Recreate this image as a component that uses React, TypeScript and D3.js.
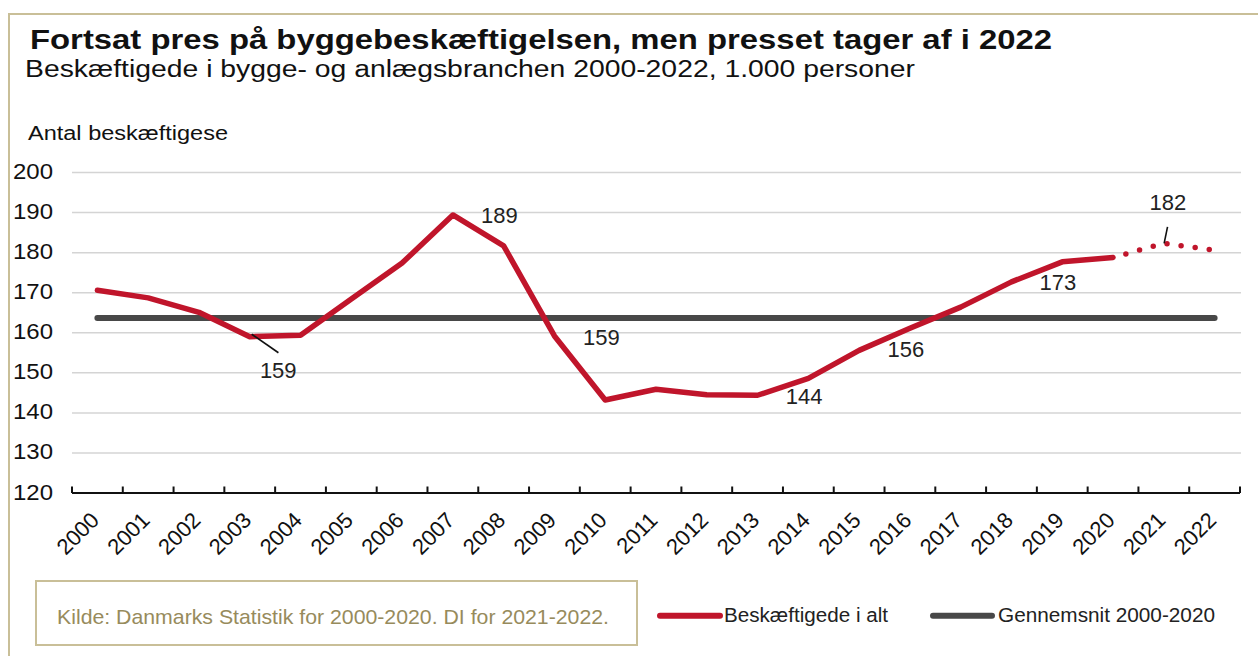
import React from "react";
import * as d3 from "d3";

const years = ["2000","2001","2002","2003","2004","2005","2006","2007","2008","2009","2010","2011","2012","2013","2014","2015","2016","2017","2018","2019","2020","2021","2022"];
const employed = [170.6,168.7,165.1,159.0,159.4,168.4,177.4,189.4,181.7,159.2,143.2,145.9,144.5,144.4,148.6,155.6,161.1,166.4,172.7,177.7,178.8,182.3,180.6];
const actualLastYear = "2020";
const averageFrom = "2000";
const averageTo = "2020";
const yTicks = [120,130,140,150,160,170,180,190,200];
const labelYears = ["2003","2007","2009","2013","2015","2018","2021"];

const titleText = "Fortsat pres på byggebeskæftigelsen, men presset tager af i 2022";
const subtitleText = "Beskæftigede i bygge- og anlægsbranchen 2000-2022, 1.000 personer";
const yAxisTitle = "Antal beskæftigese";
const sourceText = "Kilde: Danmarks Statistik for 2000-2020. DI for 2021-2022.";
const legendSeries = "Beskæftigede i alt";
const legendAverage = "Gennemsnit 2000-2020";

// layout (not data)
const W = 1258, H = 656;
const FONT = "'Liberation Sans', Arial, sans-serif";
const RED = "#c0152b";
const GRAY = "#484848";
const BEIGE = "#c9bf98";
const labelLayout: Record<string, { dx: number; dy: number; leader?: [number, number, number, number] }> = {
  "2003": { dx: 28.5, dy: 41.5, leader: [2, -2.5, 28.7, 16] },
  "2007": { dx: 46.5, dy: 8 },
  "2009": { dx: 47, dy: 9 },
  "2013": { dx: 46.5, dy: 9 },
  "2015": { dx: 46.8, dy: 7 },
  "2018": { dx: 46.5, dy: 8.5 },
  "2021": { dx: 4, dy: -33, leader: [0.3, 0, 3.7, -16.6] },
};

export default function App() {
  const x = d3.scaleBand<string>().domain(years).range([72, 1240]).padding(0);
  const y = d3.scaleLinear().domain([120, 200]).range([493, 172.5]);
  const cx = (yr: string) => (x(yr) as number) + x.bandwidth() / 2;

  const pts = years.map((yr, i) => ({ yr, v: employed[i] }));
  const lastIdx = years.indexOf(actualLastYear);
  const solid = pts.slice(0, lastIdx + 1);
  const forecast = pts.slice(lastIdx);
  const line = d3.line<{ yr: string; v: number }>().x((d) => cx(d.yr)).y((d) => y(d.v));

  const avgVals = pts.filter((d) => d.yr >= averageFrom && d.yr <= averageTo).map((d) => d.v);
  const avg = d3.mean(avgVals) as number;

  const boundaries = d3.range(years.length + 1).map((i) => 72 + i * x.bandwidth());

  return (
    <svg width={W} height={H} style={{ position: "absolute", left: 0, top: 0, background: "#fff" }} fontFamily={FONT}>
      <rect x={0} y={0} width={W} height={H} fill="#fff" />
      {/* frame */}
      <path d={`M9,${H + 5} L9,14 L${W + 5},14`} fill="none" stroke={BEIGE} strokeWidth={2} />

      <text x={30} y={49} fontSize={28} fontWeight="bold" fill="#111" textLength={1022} lengthAdjust="spacingAndGlyphs">{titleText}</text>
      <text x={25} y={76.5} fontSize={23} fill="#111" textLength={890} lengthAdjust="spacingAndGlyphs">{subtitleText}</text>
      <text x={28} y={139.5} fontSize={19.5} fill="#111" textLength={200} lengthAdjust="spacingAndGlyphs">{yAxisTitle}</text>

      {/* gridlines */}
      {yTicks.filter((t) => t > 120).map((t) => (
        <line key={t} x1={72} x2={1241} y1={y(t)} y2={y(t)} stroke="#d4d4d4" strokeWidth={1.5} />
      ))}
      {/* y tick labels */}
      {yTicks.map((t) => (
        <text key={t} x={53} y={y(t) + 6.5} fontSize={22} textAnchor="end" fill="#111" textLength={40} lengthAdjust="spacingAndGlyphs">{t}</text>
      ))}

      {/* x axis */}
      <line x1={72} x2={1240} y1={y(120)} y2={y(120)} stroke="#111" strokeWidth={2} />
      {boundaries.map((bx, i) => (
        <line key={i} x1={bx} x2={bx} y1={y(120)} y2={y(120) - 6.5} stroke="#111" strokeWidth={2} />
      ))}
      {years.map((yr) => (
        <text key={yr} transform={`translate(${cx(yr) + 3},${y(120) + 28.5}) rotate(-45)`} fontSize={22} textAnchor="end" fill="#111">{yr}</text>
      ))}

      {/* average line */}
      <line x1={cx(years[0])} x2={cx(years[years.length - 1])} y1={y(avg)} y2={y(avg)} stroke={GRAY} strokeWidth={6} strokeLinecap="round" />

      {/* series */}
      <path d={line(solid) as string} fill="none" stroke={RED} strokeWidth={5.5} strokeLinejoin="round" strokeLinecap="round" />
      <path d={line(forecast) as string} fill="none" stroke={RED} strokeWidth={5.5} strokeLinecap="round" strokeDasharray="0 14.2" strokeDashoffset={0.9} />

      {/* data labels */}
      {labelYears.map((yr) => {
        const v = employed[years.indexOf(yr)];
        const px = cx(yr), py = y(v);
        const L = labelLayout[yr];
        return (
          <g key={yr}>
            {L.leader && (
              <line x1={px + L.leader[0]} y1={py + L.leader[1]} x2={px + L.leader[2]} y2={py + L.leader[3]} stroke="#111" strokeWidth={1.6} />
            )}
            <text x={px + L.dx} y={py + L.dy} fontSize={22} textAnchor="middle" fill="#222">{Math.round(v)}</text>
          </g>
        );
      })}

      {/* source box */}
      <rect x={36} y={581} width={601} height={64} fill="none" stroke={BEIGE} strokeWidth={2} />
      <text x={57} y={624} fontSize={21} fill="#978b5c" textLength={552} lengthAdjust="spacingAndGlyphs">{sourceText}</text>

      {/* legend */}
      <line x1={660} x2={720} y1={615.7} y2={615.7} stroke={RED} strokeWidth={6} strokeLinecap="round" />
      <text x={724} y={622} fontSize={20} fill="#222" textLength={164} lengthAdjust="spacingAndGlyphs">{legendSeries}</text>
      <line x1={933} x2={992} y1={615.7} y2={615.7} stroke={GRAY} strokeWidth={6} strokeLinecap="round" />
      <text x={998} y={622} fontSize={20} fill="#222" textLength={217} lengthAdjust="spacingAndGlyphs">{legendAverage}</text>
    </svg>
  );
}
